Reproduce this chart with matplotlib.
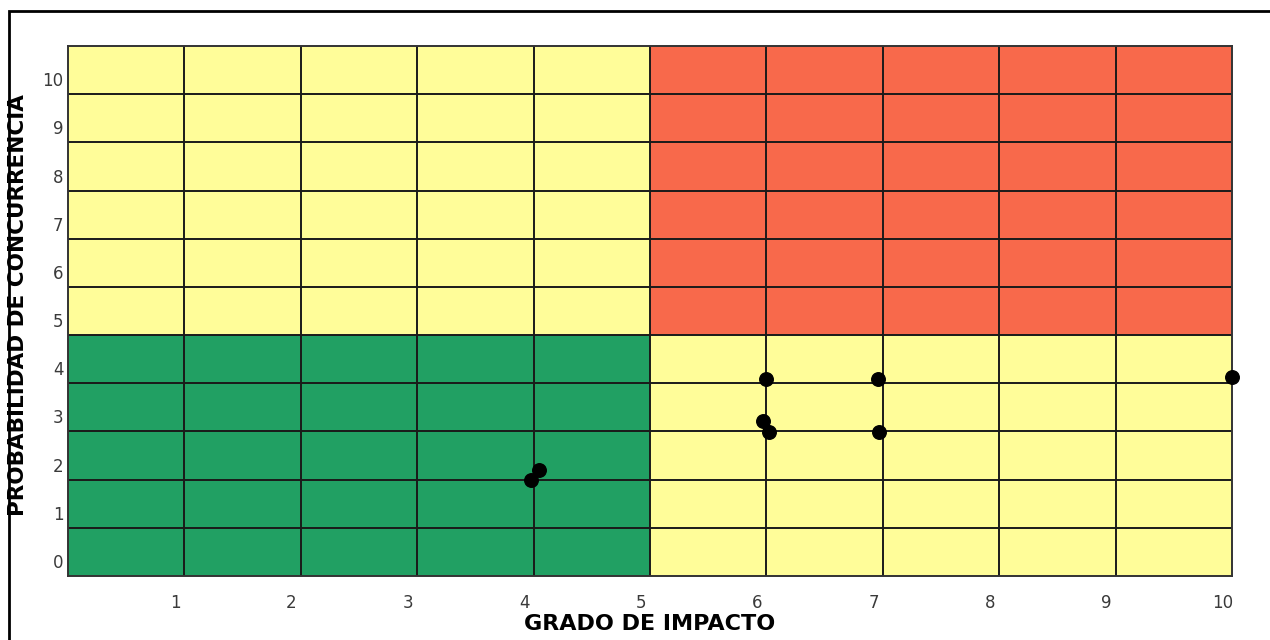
import matplotlib
matplotlib.use("Agg")
import matplotlib.pyplot as plt
from matplotlib.patches import Rectangle

# zonas de la matriz de riesgo (x0, x1, y0, y1, color)
zona_x0 = [0, 0, 5, 5]
zona_x1 = [5, 5, 10, 10]
zona_y0 = [0, 5, 5, 0]
zona_y1 = [5, 11, 11, 5]
zona_color = ["#21A063", "#FFFD99", "#F8694B", "#FFFD99"]

# riesgos evaluados
impacto = [3.98, 4.05, 6.0, 6.96, 5.97, 6.02, 6.97, 10.0]
probabilidad = [1.99, 2.21, 4.08, 4.08, 3.22, 2.98, 2.98, 4.12]

xticks = [1, 2, 3, 4, 5, 6, 7, 8, 9, 10]
yticks = [0, 1, 2, 3, 4, 5, 6, 7, 8, 9, 10]

fig = plt.figure(figsize=(12.7, 6.4), dpi=100)
ax = fig.add_axes([68 / 1270, 64 / 640, 1164 / 1270, 530 / 640])

for x0, x1, y0, y1, c in zip(zona_x0, zona_x1, zona_y0, zona_y1, zona_color):
    ax.bar(x0, y1 - y0, width=x1 - x0, bottom=y0, align="edge", color=c, linewidth=0, zorder=0)

ax.set_xlim(0, 10)
ax.set_ylim(0, 11)
for v in range(1, 10):
    ax.axvline(v, color="#1a1a1a", lw=1.4, zorder=1)
for v in range(1, 11):
    ax.axhline(v, color="#1a1a1a", lw=1.4, zorder=1)

ax.scatter(impacto, probabilidad, s=95, color="black", zorder=3, clip_on=False)

ax.set_xticks([])
ax.set_yticks([])
for t in xticks:
    ax.text(t - 0.08, -0.55, str(t), ha="center", va="center", fontsize=12, color="#3a3a3a")
for t in yticks:
    ax.text(-0.04, t + 0.27, str(t), ha="right", va="center", fontsize=12, color="#3a3a3a")

for s in ax.spines.values():
    s.set_color("#333333")
    s.set_linewidth(1.4)

fig.text(650 / 1270, 1 - 624 / 640, "GRADO DE IMPACTO", ha="center", va="center",
         fontsize=16, fontweight="bold", color="black")
fig.text(18 / 1270, 1 - 305 / 640, "PROBABILIDAD DE CONCURRENCIA", ha="center", va="center",
         rotation=90, fontsize=15.5, fontweight="bold", color="black")

# marco exterior
fig.add_artist(Rectangle((9 / 1270, -0.1), 1.2, 1 - 11 / 640 + 0.1, transform=fig.transFigure,
                         fill=False, edgecolor="black", linewidth=2))

fig.savefig("out.png", dpi=100)
